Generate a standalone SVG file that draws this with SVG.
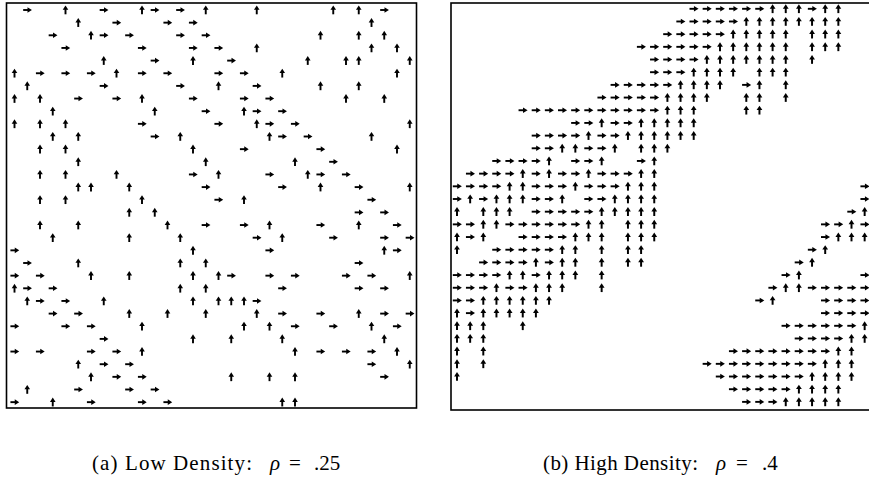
<svg xmlns="http://www.w3.org/2000/svg" width="869" height="480" viewBox="0 0 869 480">
<style>
.frame{fill:none;stroke:#000;stroke-width:1.6}
.sh{fill:none;stroke:#000;stroke-width:0.15}
.ah{fill:#000}
.cap{font-family:"Liberation Serif","Times New Roman",serif;font-size:21px;fill:#000}
.it{font-style:italic}
</style>
<defs>
<g id="r"><path class="sh" d="M-0.32,0H0.1"/><path class="ah" d="M0.02,-0.22L0.37,0L0.02,0.22Z"/></g>
<g id="u"><path class="sh" d="M0,0.34V-0.08"/><path class="ah" d="M-0.22,-0.01L0,-0.36L0.22,-0.01Z"/></g>
</defs>
<rect fill="#fff" width="869" height="480"/>
<g id="panel-a">
<rect class="frame" x="6.5" y="3" width="410" height="405"/>
<g transform="translate(14.5,10) scale(12.75,12.65)">
<g transform="translate(0,0)"><use href="#r" x="1"/><use href="#r" x="7"/><use href="#r" x="11"/><use href="#r" x="13"/><use href="#r" x="29"/><use href="#u" x="4"/><use href="#u" x="10"/><use href="#u" x="15"/><use href="#u" x="19"/><use href="#u" x="25"/><use href="#u" x="27"/></g>
<g transform="translate(0,1)"><use href="#r" x="8"/><use href="#r" x="12"/><use href="#r" x="14"/><use href="#u" x="5"/><use href="#u" x="28"/></g>
<g transform="translate(0,2)"><use href="#r" x="3"/><use href="#r" x="7"/><use href="#r" x="9"/><use href="#r" x="13"/><use href="#r" x="15"/><use href="#u" x="6"/><use href="#u" x="24"/><use href="#u" x="27"/><use href="#u" x="29"/></g>
<g transform="translate(0,3)"><use href="#r" x="4"/><use href="#r" x="10"/><use href="#r" x="14"/><use href="#r" x="16"/><use href="#u" x="19"/><use href="#u" x="28"/><use href="#u" x="30"/></g>
<g transform="translate(0,4)"><use href="#r" x="11"/><use href="#r" x="17"/><use href="#u" x="7"/><use href="#u" x="14"/><use href="#u" x="23"/><use href="#u" x="26"/><use href="#u" x="27"/><use href="#u" x="31"/></g>
<g transform="translate(0,5)"><use href="#r" x="2"/><use href="#r" x="4"/><use href="#r" x="6"/><use href="#r" x="10"/><use href="#r" x="12"/><use href="#r" x="16"/><use href="#r" x="18"/><use href="#u" x="0"/><use href="#u" x="8"/><use href="#u" x="21"/><use href="#u" x="30"/></g>
<g transform="translate(0,6)"><use href="#r" x="7"/><use href="#r" x="13"/><use href="#r" x="19"/><use href="#u" x="1"/><use href="#u" x="16"/><use href="#u" x="24"/><use href="#u" x="27"/></g>
<g transform="translate(0,7)"><use href="#r" x="5"/><use href="#r" x="8"/><use href="#r" x="14"/><use href="#r" x="18"/><use href="#r" x="20"/><use href="#u" x="0"/><use href="#u" x="2"/><use href="#u" x="10"/><use href="#u" x="26"/><use href="#u" x="29"/></g>
<g transform="translate(0,8)"><use href="#r" x="15"/><use href="#r" x="19"/><use href="#r" x="21"/><use href="#u" x="3"/><use href="#u" x="11"/><use href="#u" x="18"/></g>
<g transform="translate(0,9)"><use href="#r" x="10"/><use href="#r" x="16"/><use href="#r" x="20"/><use href="#r" x="22"/><use href="#u" x="0"/><use href="#u" x="2"/><use href="#u" x="4"/><use href="#u" x="19"/><use href="#u" x="31"/></g>
<g transform="translate(0,10)"><use href="#r" x="11"/><use href="#r" x="21"/><use href="#r" x="23"/><use href="#u" x="3"/><use href="#u" x="5"/><use href="#u" x="13"/><use href="#u" x="20"/><use href="#u" x="28"/></g>
<g transform="translate(0,11)"><use href="#r" x="18"/><use href="#r" x="24"/><use href="#u" x="2"/><use href="#u" x="4"/><use href="#u" x="14"/><use href="#u" x="30"/></g>
<g transform="translate(0,12)"><use href="#r" x="25"/><use href="#u" x="5"/><use href="#u" x="15"/><use href="#u" x="22"/></g>
<g transform="translate(0,13)"><use href="#r" x="14"/><use href="#r" x="20"/><use href="#r" x="24"/><use href="#r" x="26"/><use href="#u" x="2"/><use href="#u" x="4"/><use href="#u" x="8"/><use href="#u" x="16"/><use href="#u" x="23"/></g>
<g transform="translate(0,14)"><use href="#r" x="15"/><use href="#r" x="21"/><use href="#r" x="27"/><use href="#u" x="5"/><use href="#u" x="6"/><use href="#u" x="9"/><use href="#u" x="24"/><use href="#u" x="31"/></g>
<g transform="translate(0,15)"><use href="#r" x="16"/><use href="#r" x="28"/><use href="#u" x="2"/><use href="#u" x="4"/><use href="#u" x="10"/><use href="#u" x="18"/></g>
<g transform="translate(0,16)"><use href="#r" x="27"/><use href="#r" x="29"/><use href="#u" x="9"/><use href="#u" x="11"/></g>
<g transform="translate(0,17)"><use href="#r" x="15"/><use href="#r" x="18"/><use href="#r" x="24"/><use href="#r" x="30"/><use href="#u" x="2"/><use href="#u" x="5"/><use href="#u" x="12"/><use href="#u" x="20"/><use href="#u" x="27"/></g>
<g transform="translate(0,18)"><use href="#r" x="19"/><use href="#r" x="25"/><use href="#r" x="29"/><use href="#r" x="31"/><use href="#u" x="3"/><use href="#u" x="9"/><use href="#u" x="13"/><use href="#u" x="21"/></g>
<g transform="translate(0,19)"><use href="#r" x="0"/><use href="#r" x="20"/><use href="#r" x="30"/><use href="#u" x="14"/><use href="#u" x="29"/></g>
<g transform="translate(0,20)"><use href="#r" x="1"/><use href="#r" x="27"/><use href="#u" x="5"/><use href="#u" x="13"/><use href="#u" x="15"/></g>
<g transform="translate(0,21)"><use href="#r" x="0"/><use href="#r" x="2"/><use href="#r" x="17"/><use href="#r" x="20"/><use href="#r" x="22"/><use href="#r" x="26"/><use href="#r" x="28"/><use href="#u" x="6"/><use href="#u" x="9"/><use href="#u" x="14"/><use href="#u" x="16"/><use href="#u" x="31"/></g>
<g transform="translate(0,22)"><use href="#r" x="1"/><use href="#r" x="3"/><use href="#r" x="21"/><use href="#r" x="27"/><use href="#r" x="29"/><use href="#u" x="0"/><use href="#u" x="13"/><use href="#u" x="15"/></g>
<g transform="translate(0,23)"><use href="#r" x="2"/><use href="#r" x="4"/><use href="#r" x="19"/><use href="#u" x="1"/><use href="#u" x="7"/><use href="#u" x="14"/><use href="#u" x="16"/><use href="#u" x="17"/><use href="#u" x="18"/></g>
<g transform="translate(0,24)"><use href="#r" x="3"/><use href="#r" x="5"/><use href="#r" x="21"/><use href="#r" x="24"/><use href="#r" x="29"/><use href="#r" x="31"/><use href="#u" x="9"/><use href="#u" x="12"/><use href="#u" x="15"/><use href="#u" x="19"/><use href="#u" x="27"/></g>
<g transform="translate(0,25)"><use href="#r" x="0"/><use href="#r" x="4"/><use href="#r" x="6"/><use href="#r" x="22"/><use href="#r" x="25"/><use href="#r" x="30"/><use href="#u" x="10"/><use href="#u" x="18"/><use href="#u" x="20"/><use href="#u" x="28"/></g>
<g transform="translate(0,26)"><use href="#r" x="7"/><use href="#u" x="14"/><use href="#u" x="17"/><use href="#u" x="21"/><use href="#u" x="29"/></g>
<g transform="translate(0,27)"><use href="#r" x="0"/><use href="#r" x="2"/><use href="#r" x="6"/><use href="#r" x="8"/><use href="#r" x="24"/><use href="#r" x="26"/><use href="#r" x="28"/><use href="#u" x="10"/><use href="#u" x="22"/><use href="#u" x="30"/></g>
<g transform="translate(0,28)"><use href="#r" x="7"/><use href="#r" x="9"/><use href="#r" x="28"/><use href="#u" x="5"/><use href="#u" x="31"/></g>
<g transform="translate(0,29)"><use href="#r" x="8"/><use href="#r" x="10"/><use href="#r" x="29"/><use href="#u" x="6"/><use href="#u" x="17"/><use href="#u" x="20"/><use href="#u" x="22"/></g>
<g transform="translate(0,30)"><use href="#r" x="5"/><use href="#r" x="9"/><use href="#r" x="11"/><use href="#u" x="1"/></g>
<g transform="translate(0,31)"><use href="#r" x="0"/><use href="#r" x="6"/><use href="#r" x="10"/><use href="#r" x="12"/><use href="#u" x="3"/><use href="#u" x="21"/><use href="#u" x="22"/></g>
</g>
<text class="cap" x="92" y="470" xml:space="preserve"><tspan textLength="160" lengthAdjust="spacing">(a) Low Density:</tspan><tspan class="it" x="270">ρ</tspan><tspan x="289">=</tspan><tspan x="314">.25</tspan></text>
</g>
<g id="panel-b">
<rect class="frame" x="451" y="3" width="430" height="407"/>
<g transform="translate(457,8.8) scale(13.15,12.68)">
<g transform="translate(0,0)"><use href="#r" x="18"/><use href="#r" x="19"/><use href="#r" x="20"/><use href="#r" x="21"/><use href="#r" x="22"/><use href="#r" x="23"/><use href="#r" x="27"/><use href="#u" x="24"/><use href="#u" x="25"/><use href="#u" x="26"/><use href="#u" x="28"/><use href="#u" x="29"/></g>
<g transform="translate(0,1)"><use href="#r" x="17"/><use href="#r" x="18"/><use href="#r" x="19"/><use href="#r" x="20"/><use href="#r" x="21"/><use href="#u" x="22"/><use href="#u" x="23"/><use href="#u" x="24"/><use href="#u" x="25"/><use href="#u" x="26"/><use href="#u" x="27"/><use href="#u" x="28"/><use href="#u" x="29"/></g>
<g transform="translate(0,2)"><use href="#r" x="16"/><use href="#r" x="17"/><use href="#r" x="18"/><use href="#r" x="19"/><use href="#r" x="20"/><use href="#u" x="21"/><use href="#u" x="22"/><use href="#u" x="23"/><use href="#u" x="24"/><use href="#u" x="25"/><use href="#u" x="27"/><use href="#u" x="28"/><use href="#u" x="29"/></g>
<g transform="translate(0,3)"><use href="#r" x="14"/><use href="#r" x="15"/><use href="#r" x="16"/><use href="#r" x="17"/><use href="#r" x="18"/><use href="#r" x="19"/><use href="#u" x="20"/><use href="#u" x="21"/><use href="#u" x="22"/><use href="#u" x="23"/><use href="#u" x="24"/><use href="#u" x="25"/><use href="#u" x="27"/><use href="#u" x="28"/><use href="#u" x="29"/></g>
<g transform="translate(0,4)"><use href="#r" x="15"/><use href="#r" x="16"/><use href="#r" x="17"/><use href="#r" x="18"/><use href="#u" x="19"/><use href="#u" x="20"/><use href="#u" x="21"/><use href="#u" x="22"/><use href="#u" x="23"/><use href="#u" x="24"/><use href="#u" x="25"/><use href="#u" x="27"/></g>
<g transform="translate(0,5)"><use href="#r" x="15"/><use href="#r" x="16"/><use href="#r" x="17"/><use href="#u" x="18"/><use href="#u" x="19"/><use href="#u" x="20"/><use href="#u" x="21"/><use href="#u" x="23"/><use href="#u" x="24"/><use href="#u" x="25"/></g>
<g transform="translate(0,6)"><use href="#r" x="12"/><use href="#r" x="13"/><use href="#r" x="14"/><use href="#r" x="15"/><use href="#r" x="16"/><use href="#r" x="22"/><use href="#u" x="17"/><use href="#u" x="18"/><use href="#u" x="19"/><use href="#u" x="20"/><use href="#u" x="23"/><use href="#u" x="25"/></g>
<g transform="translate(0,7)"><use href="#r" x="11"/><use href="#r" x="12"/><use href="#r" x="13"/><use href="#r" x="14"/><use href="#r" x="15"/><use href="#u" x="16"/><use href="#u" x="17"/><use href="#u" x="18"/><use href="#u" x="19"/><use href="#u" x="22"/><use href="#u" x="23"/><use href="#u" x="25"/></g>
<g transform="translate(0,8)"><use href="#r" x="5"/><use href="#r" x="6"/><use href="#r" x="7"/><use href="#r" x="8"/><use href="#r" x="9"/><use href="#r" x="10"/><use href="#r" x="11"/><use href="#r" x="12"/><use href="#r" x="13"/><use href="#r" x="14"/><use href="#r" x="15"/><use href="#u" x="16"/><use href="#u" x="17"/><use href="#u" x="18"/><use href="#u" x="22"/><use href="#u" x="23"/></g>
<g transform="translate(0,9)"><use href="#r" x="9"/><use href="#r" x="10"/><use href="#r" x="12"/><use href="#r" x="13"/><use href="#u" x="11"/><use href="#u" x="14"/><use href="#u" x="15"/><use href="#u" x="16"/><use href="#u" x="17"/><use href="#u" x="18"/></g>
<g transform="translate(0,10)"><use href="#r" x="6"/><use href="#r" x="7"/><use href="#r" x="8"/><use href="#r" x="9"/><use href="#r" x="11"/><use href="#r" x="12"/><use href="#u" x="10"/><use href="#u" x="13"/><use href="#u" x="14"/><use href="#u" x="15"/><use href="#u" x="16"/><use href="#u" x="17"/><use href="#u" x="18"/></g>
<g transform="translate(0,11)"><use href="#r" x="6"/><use href="#r" x="7"/><use href="#r" x="10"/><use href="#r" x="11"/><use href="#u" x="8"/><use href="#u" x="9"/><use href="#u" x="12"/><use href="#u" x="14"/><use href="#u" x="15"/><use href="#u" x="16"/></g>
<g transform="translate(0,12)"><use href="#r" x="3"/><use href="#r" x="4"/><use href="#r" x="5"/><use href="#r" x="6"/><use href="#r" x="9"/><use href="#r" x="10"/><use href="#r" x="14"/><use href="#u" x="7"/><use href="#u" x="11"/><use href="#u" x="15"/></g>
<g transform="translate(0,13)"><use href="#r" x="1"/><use href="#r" x="2"/><use href="#r" x="3"/><use href="#r" x="4"/><use href="#r" x="6"/><use href="#r" x="8"/><use href="#r" x="9"/><use href="#r" x="11"/><use href="#r" x="12"/><use href="#r" x="13"/><use href="#u" x="5"/><use href="#u" x="7"/><use href="#u" x="10"/><use href="#u" x="14"/><use href="#u" x="15"/></g>
<g transform="translate(0,14)"><use href="#r" x="0"/><use href="#r" x="1"/><use href="#r" x="2"/><use href="#r" x="3"/><use href="#r" x="6"/><use href="#r" x="7"/><use href="#r" x="8"/><use href="#r" x="10"/><use href="#r" x="11"/><use href="#r" x="12"/><use href="#r" x="31"/><use href="#u" x="4"/><use href="#u" x="5"/><use href="#u" x="9"/><use href="#u" x="13"/><use href="#u" x="14"/><use href="#u" x="15"/></g>
<g transform="translate(0,15)"><use href="#r" x="0"/><use href="#r" x="2"/><use href="#r" x="6"/><use href="#r" x="7"/><use href="#r" x="10"/><use href="#r" x="11"/><use href="#r" x="31"/><use href="#u" x="1"/><use href="#u" x="3"/><use href="#u" x="4"/><use href="#u" x="5"/><use href="#u" x="8"/><use href="#u" x="12"/><use href="#u" x="13"/><use href="#u" x="14"/><use href="#u" x="15"/></g>
<g transform="translate(0,16)"><use href="#r" x="6"/><use href="#r" x="7"/><use href="#r" x="8"/><use href="#r" x="9"/><use href="#r" x="10"/><use href="#r" x="30"/><use href="#u" x="0"/><use href="#u" x="2"/><use href="#u" x="3"/><use href="#u" x="4"/><use href="#u" x="11"/><use href="#u" x="12"/><use href="#u" x="13"/><use href="#u" x="14"/><use href="#u" x="15"/><use href="#u" x="31"/></g>
<g transform="translate(0,17)"><use href="#r" x="0"/><use href="#r" x="1"/><use href="#r" x="4"/><use href="#r" x="5"/><use href="#r" x="6"/><use href="#r" x="7"/><use href="#r" x="8"/><use href="#r" x="9"/><use href="#r" x="28"/><use href="#r" x="29"/><use href="#r" x="31"/><use href="#u" x="2"/><use href="#u" x="3"/><use href="#u" x="10"/><use href="#u" x="11"/><use href="#u" x="13"/><use href="#u" x="14"/><use href="#u" x="15"/><use href="#u" x="30"/></g>
<g transform="translate(0,18)"><use href="#r" x="1"/><use href="#r" x="5"/><use href="#r" x="6"/><use href="#r" x="7"/><use href="#r" x="8"/><use href="#r" x="28"/><use href="#u" x="0"/><use href="#u" x="2"/><use href="#u" x="9"/><use href="#u" x="10"/><use href="#u" x="11"/><use href="#u" x="13"/><use href="#u" x="14"/><use href="#u" x="15"/><use href="#u" x="29"/><use href="#u" x="30"/><use href="#u" x="31"/></g>
<g transform="translate(0,19)"><use href="#r" x="3"/><use href="#r" x="4"/><use href="#r" x="5"/><use href="#r" x="6"/><use href="#r" x="7"/><use href="#r" x="27"/><use href="#u" x="0"/><use href="#u" x="8"/><use href="#u" x="9"/><use href="#u" x="11"/><use href="#u" x="13"/><use href="#u" x="14"/><use href="#u" x="28"/></g>
<g transform="translate(0,20)"><use href="#r" x="2"/><use href="#r" x="3"/><use href="#r" x="4"/><use href="#r" x="5"/><use href="#r" x="7"/><use href="#r" x="26"/><use href="#u" x="6"/><use href="#u" x="8"/><use href="#u" x="9"/><use href="#u" x="11"/><use href="#u" x="13"/><use href="#u" x="14"/><use href="#u" x="27"/></g>
<g transform="translate(0,21)"><use href="#r" x="0"/><use href="#r" x="1"/><use href="#r" x="2"/><use href="#r" x="3"/><use href="#r" x="6"/><use href="#r" x="25"/><use href="#r" x="31"/><use href="#u" x="4"/><use href="#u" x="5"/><use href="#u" x="7"/><use href="#u" x="8"/><use href="#u" x="9"/><use href="#u" x="11"/><use href="#u" x="26"/></g>
<g transform="translate(0,22)"><use href="#r" x="0"/><use href="#r" x="1"/><use href="#r" x="2"/><use href="#r" x="4"/><use href="#r" x="5"/><use href="#r" x="24"/><use href="#r" x="27"/><use href="#r" x="28"/><use href="#r" x="29"/><use href="#r" x="30"/><use href="#r" x="31"/><use href="#u" x="3"/><use href="#u" x="6"/><use href="#u" x="7"/><use href="#u" x="8"/><use href="#u" x="11"/><use href="#u" x="25"/><use href="#u" x="26"/></g>
<g transform="translate(0,23)"><use href="#r" x="0"/><use href="#r" x="1"/><use href="#r" x="23"/><use href="#r" x="28"/><use href="#r" x="29"/><use href="#r" x="30"/><use href="#r" x="31"/><use href="#u" x="2"/><use href="#u" x="3"/><use href="#u" x="4"/><use href="#u" x="5"/><use href="#u" x="6"/><use href="#u" x="7"/><use href="#u" x="24"/></g>
<g transform="translate(0,24)"><use href="#r" x="1"/><use href="#r" x="28"/><use href="#r" x="29"/><use href="#r" x="30"/><use href="#r" x="31"/><use href="#u" x="0"/><use href="#u" x="2"/><use href="#u" x="3"/><use href="#u" x="4"/><use href="#u" x="5"/><use href="#u" x="6"/></g>
<g transform="translate(0,25)"><use href="#r" x="25"/><use href="#r" x="26"/><use href="#r" x="27"/><use href="#r" x="28"/><use href="#r" x="29"/><use href="#r" x="30"/><use href="#u" x="0"/><use href="#u" x="1"/><use href="#u" x="2"/><use href="#u" x="5"/><use href="#u" x="31"/></g>
<g transform="translate(0,26)"><use href="#r" x="26"/><use href="#r" x="27"/><use href="#r" x="28"/><use href="#r" x="29"/><use href="#u" x="0"/><use href="#u" x="1"/><use href="#u" x="2"/><use href="#u" x="30"/><use href="#u" x="31"/></g>
<g transform="translate(0,27)"><use href="#r" x="21"/><use href="#r" x="22"/><use href="#r" x="23"/><use href="#r" x="24"/><use href="#r" x="25"/><use href="#r" x="26"/><use href="#r" x="27"/><use href="#r" x="28"/><use href="#u" x="0"/><use href="#u" x="2"/><use href="#u" x="29"/><use href="#u" x="30"/></g>
<g transform="translate(0,28)"><use href="#r" x="19"/><use href="#r" x="20"/><use href="#r" x="21"/><use href="#r" x="22"/><use href="#r" x="23"/><use href="#r" x="24"/><use href="#r" x="25"/><use href="#r" x="26"/><use href="#r" x="27"/><use href="#u" x="0"/><use href="#u" x="2"/><use href="#u" x="28"/><use href="#u" x="29"/><use href="#u" x="30"/></g>
<g transform="translate(0,29)"><use href="#r" x="20"/><use href="#r" x="21"/><use href="#r" x="22"/><use href="#r" x="23"/><use href="#r" x="24"/><use href="#r" x="25"/><use href="#r" x="26"/><use href="#u" x="0"/><use href="#u" x="27"/><use href="#u" x="28"/><use href="#u" x="29"/><use href="#u" x="30"/></g>
<g transform="translate(0,30)"><use href="#r" x="21"/><use href="#r" x="22"/><use href="#r" x="23"/><use href="#r" x="24"/><use href="#r" x="25"/><use href="#u" x="26"/><use href="#u" x="27"/><use href="#u" x="28"/><use href="#u" x="29"/></g>
<g transform="translate(0,31)"><use href="#r" x="22"/><use href="#r" x="23"/><use href="#r" x="24"/><use href="#u" x="25"/><use href="#u" x="26"/><use href="#u" x="27"/><use href="#u" x="28"/><use href="#u" x="29"/></g>
</g>
<text class="cap" x="543" y="470" xml:space="preserve"><tspan textLength="155" lengthAdjust="spacing">(b) High Density:</tspan><tspan class="it" x="716">ρ</tspan><tspan x="736">=</tspan><tspan x="762">.4</tspan></text>
</g>
</svg>
